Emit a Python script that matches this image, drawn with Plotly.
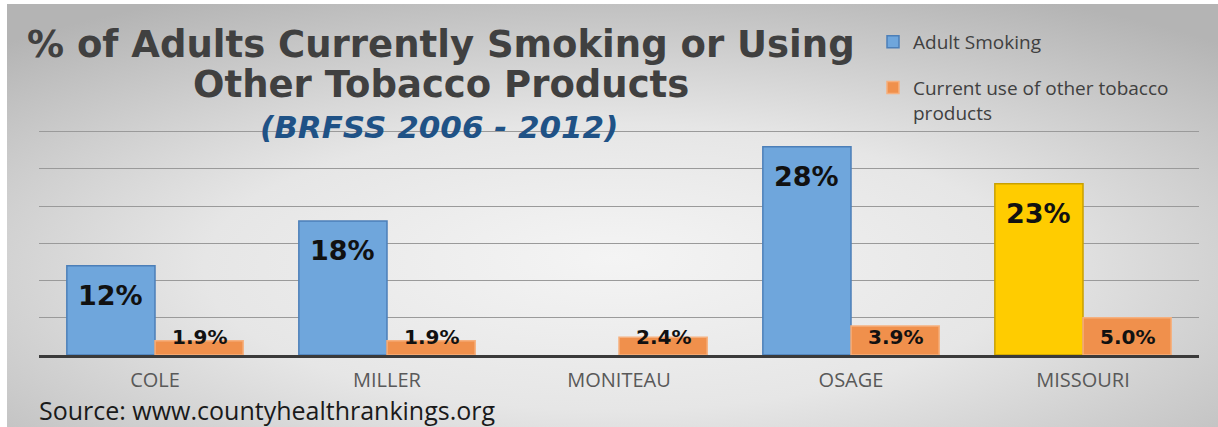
import base64
import plotly.graph_objects as go

# ---------------- data ----------------
categories = ["COLE", "MILLER", "MONITEAU", "OSAGE", "MISSOURI"]
adult_smoking = [12, 18, None, 28, 23]
other_tobacco = [1.9, 1.9, 2.4, 3.9, 5.0]
adult_labels = ["12%", "18%", "", "28%", "23%"]
other_labels = ["1.9%", "1.9%", "2.4%", "3.9%", "5.0%"]
series_names = ["Adult Smoking", "Current use of other tobacco<br>products"]
title_lines = ["% of Adults Currently Smoking or Using", "Other Tobacco Products"]
subtitle = "(BRFSS 2006 - 2012)"
source_text = "Source: www.countyhealthrankings.org"
y_max = 34
y_step = 5

# ---------------- layout geometry ----------------
W, H = 1218, 427
ML, MR, MT, MB = 39, 19, 102, 72
PW, PH = W - ML - MR, H - MT - MB


def px(x):
    return (x - ML) / PW


def py(y):
    return (H - MB - y) / PH


BLUE = "#6FA6DC"
BLUE_EDGE = "#4C7FB8"
YELLOW = "#FFCC00"
YELLOW_EDGE = "#C9A000"
ORANGE = "#F0904C"
ORANGE_EDGE = "#F6B07E"

bargap = 0.24
half = (1 - bargap) / 4

blue_colors = [YELLOW if c == "MISSOURI" else BLUE for c in categories]
blue_edges = [YELLOW_EDGE if c == "MISSOURI" else BLUE_EDGE for c in categories]

fig = go.Figure()
fig.add_trace(go.Bar(
    x=categories, y=adult_smoking, name=series_names[0], legendgroup="a",
    marker=dict(color=blue_colors, line=dict(color=blue_edges, width=1.5)),
    hoverinfo="skip",
))
fig.add_trace(go.Bar(
    x=categories, y=other_tobacco, name=series_names[1], legendgroup="b",
    marker=dict(color=ORANGE, line=dict(color=ORANGE_EDGE, width=1.5)),
    hoverinfo="skip",
))

annotations = []
for i, (v, t) in enumerate(zip(adult_smoking, adult_labels)):
    if v is None or not t:
        continue
    annotations.append(dict(
        x=i - half, y=v, xref="x", yref="y", text=f"<b>{t}</b>", showarrow=False,
        yanchor="top", yshift=-12,
        font=dict(family="DejaVu Sans", size=27, color="#111111"),
    ))
for i, (v, t) in enumerate(zip(other_tobacco, other_labels)):
    annotations.append(dict(
        x=i + half, y=0, xref="x", yref="y", text=f"<b>{t}</b>", showarrow=False,
        yanchor="bottom", yshift=4,
        font=dict(family="DejaVu Sans", size=20, color="#111111"),
    ))

# titles
annotations.append(dict(
    x=px(441), y=py(45), xref="paper", yref="paper", text=f"<b>{title_lines[0]}</b>",
    showarrow=False, xanchor="center", yanchor="middle",
    font=dict(family="DejaVu Sans", size=37, color="#404040"),
))
annotations.append(dict(
    x=px(441), y=py(85), xref="paper", yref="paper", text=f"<b>{title_lines[1]}</b>",
    showarrow=False, xanchor="center", yanchor="middle",
    font=dict(family="DejaVu Sans", size=37, color="#404040"),
))
annotations.append(dict(
    x=px(439), y=py(127), xref="paper", yref="paper", text=f"<b><i>{subtitle}</i></b>",
    showarrow=False, xanchor="center", yanchor="middle",
    font=dict(family="DejaVu Sans", size=31, color="#1F5286"),
))
annotations.append(dict(
    x=px(37), y=py(410), xref="paper", yref="paper", text=source_text,
    showarrow=False, xanchor="left", yanchor="middle",
    font=dict(family="Open Sans", size=25, color="#1a1a1a"),
))

# gradient background as inline SVG
bw, bh = W - 7, H - 4
svg = f'''<svg xmlns="http://www.w3.org/2000/svg" width="{bw}" height="{bh}" viewBox="0 0 {bw} {bh}" preserveAspectRatio="none">
<defs><radialGradient id="g" cx="50%" cy="65%" r="75%" fx="50%" fy="60%">
<stop offset="0%" stop-color="#f4f4f4"/>
<stop offset="45%" stop-color="#e6e6e6"/>
<stop offset="100%" stop-color="#b4b4b4"/>
</radialGradient></defs>
<rect width="{bw}" height="{bh}" fill="url(#g)"/></svg>'''
src = "data:image/svg+xml;base64," + base64.b64encode(svg.encode()).decode()

fig.update_layout(
    width=W, height=H,
    margin=dict(l=ML, r=MR, t=MT, b=MB, pad=0),
    paper_bgcolor="white",
    plot_bgcolor="rgba(0,0,0,0)",
    barmode="group", bargap=bargap, bargroupgap=0,
    showlegend=True,
    hovermode=False,
    legend=dict(
        x=px(873), y=py(23), xanchor="left", yanchor="top",
        bgcolor="rgba(0,0,0,0)", tracegroupgap=18, valign="top",
        font=dict(family="Open Sans", size=19, color="#404040"),
        itemclick=False,
    ),
    images=[dict(
        source=src, xref="paper", yref="paper", x=px(7), y=py(4),
        sizex=bw / PW, sizey=bh / PH, xanchor="left", yanchor="top",
        sizing="stretch", layer="below",
    )],
    annotations=annotations,
    xaxis=dict(
        showline=True, linecolor="#3a3a3a", linewidth=3, ticks="",
        showgrid=False, ticklabelstandoff=5,
        tickfont=dict(family="Open Sans", size=20, color="#595959"),
    ),
    yaxis=dict(
        range=[0, y_max], dtick=y_step, showticklabels=False, zeroline=False,
        showgrid=True, gridcolor="#9a9a9a", gridwidth=1, ticks="",
    ),
)

fig.write_html(
    "out.html",
    config={"displayModeBar": False, "staticPlot": False},
    post_script="document.body.style.margin='0px';",
)
